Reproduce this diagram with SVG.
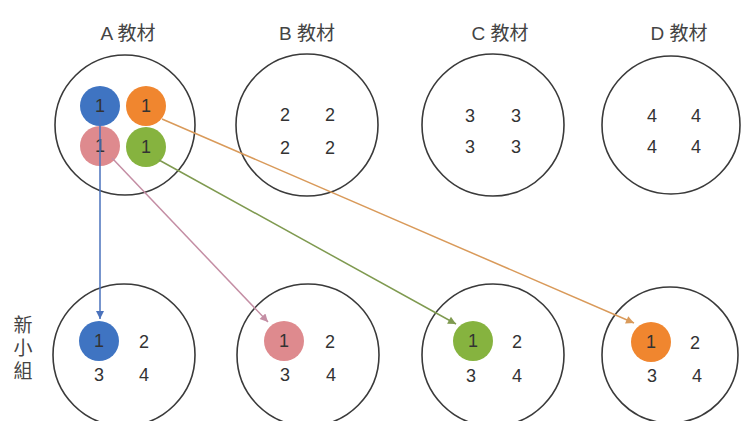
<svg xmlns="http://www.w3.org/2000/svg" width="741" height="421" viewBox="0 0 741 421">
<style>
.ring{fill:none;stroke:#3a3a3a;stroke-width:1.6}
.t{font-family:"Liberation Sans","Noto Sans CJK TC",sans-serif;font-size:19px;fill:#444;text-anchor:middle}
.n{font-family:"Liberation Sans",sans-serif;font-size:18px;fill:#333;text-anchor:middle}
.v{font-family:"Noto Sans CJK TC",sans-serif;font-size:19px;fill:#444;writing-mode:vertical-rl;letter-spacing:4px}
.blue{fill:#3F74C2}.orange{fill:#F0862F}.pink{fill:#DE8A8E}.green{fill:#86B33F}
.ln{fill:none;stroke-width:1.5}
</style>
<defs>
<marker id="mb" viewBox="0 0 10 10" refX="10" refY="5" markerWidth="9" markerHeight="8" markerUnits="userSpaceOnUse" orient="auto"><path d="M0,0 L10,5 L0,10 z" fill="#4A72BC"/></marker>
<marker id="mp" viewBox="0 0 10 10" refX="10" refY="5" markerWidth="9" markerHeight="8" markerUnits="userSpaceOnUse" orient="auto"><path d="M0,0 L10,5 L0,10 z" fill="#C48EA4"/></marker>
<marker id="mg" viewBox="0 0 10 10" refX="10" refY="5" markerWidth="9" markerHeight="8" markerUnits="userSpaceOnUse" orient="auto"><path d="M0,0 L10,5 L0,10 z" fill="#7F9A50"/></marker>
<marker id="mo" viewBox="0 0 10 10" refX="10" refY="5" markerWidth="9" markerHeight="8" markerUnits="userSpaceOnUse" orient="auto"><path d="M0,0 L10,5 L0,10 z" fill="#D99A5A"/></marker>
</defs>
<rect width="741" height="421" fill="#fff"/>

<g id="titles">
<text class="t" x="128" y="40">A 教材</text>
<text class="t" x="307" y="40">B 教材</text>
<text class="t" x="500" y="40">C 教材</text>
<text class="t" x="679" y="40">D 教材</text>
</g>

<g id="label-new-group">
<text class="v" x="23" y="315">新小組</text>
</g>

<g id="material-A">
<circle class="ring" cx="125" cy="125" r="70"/>
<circle class="blue" cx="100" cy="106" r="20"/>
<circle class="orange" cx="146" cy="106" r="20"/>
<circle class="pink" cx="100" cy="146" r="20"/>
<circle class="green" cx="146" cy="147" r="20"/>
<text class="n" x="100" y="112">1</text>
<text class="n" x="146" y="112">1</text>
<text class="n" x="100" y="152">1</text>
<text class="n" x="146" y="153">1</text>
</g>

<g id="material-B">
<circle class="ring" cx="307" cy="125" r="71"/>
<text class="n" x="285" y="121">2</text>
<text class="n" x="330" y="121">2</text>
<text class="n" x="285" y="154">2</text>
<text class="n" x="330" y="154">2</text>
</g>

<g id="material-C">
<circle class="ring" cx="493" cy="125" r="71"/>
<text class="n" x="470" y="122">3</text>
<text class="n" x="516" y="122">3</text>
<text class="n" x="470" y="153">3</text>
<text class="n" x="516" y="153">3</text>
</g>

<g id="material-D">
<circle class="ring" cx="671" cy="125" r="69"/>
<text class="n" x="652" y="122">4</text>
<text class="n" x="696" y="122">4</text>
<text class="n" x="652" y="153">4</text>
<text class="n" x="696" y="153">4</text>
</g>

<g id="group-1">
<circle class="ring" cx="124" cy="355" r="71"/>
<circle class="blue" cx="99" cy="341" r="20"/>
<text class="n" x="99" y="347">1</text>
<text class="n" x="144" y="348">2</text>
<text class="n" x="99" y="381">3</text>
<text class="n" x="144" y="381">4</text>
</g>

<g id="group-2">
<circle class="ring" cx="308" cy="355" r="71"/>
<circle class="pink" cx="284" cy="341" r="20"/>
<text class="n" x="284" y="347">1</text>
<text class="n" x="330" y="348">2</text>
<text class="n" x="285" y="381">3</text>
<text class="n" x="331" y="381">4</text>
</g>

<g id="group-3">
<circle class="ring" cx="493" cy="355" r="71"/>
<circle class="green" cx="473" cy="341" r="20"/>
<text class="n" x="473" y="347">1</text>
<text class="n" x="517" y="348">2</text>
<text class="n" x="471" y="382">3</text>
<text class="n" x="517" y="382">4</text>
</g>

<g id="group-4">
<circle class="ring" cx="670" cy="355" r="68"/>
<circle class="orange" cx="651" cy="342" r="20"/>
<text class="n" x="651" y="348">1</text>
<text class="n" x="695" y="349">2</text>
<text class="n" x="652" y="382">3</text>
<text class="n" x="697" y="382">4</text>
</g>

<g id="connectors">
<path class="ln" d="M100,112 L100,319" stroke="#4A72BC" marker-end="url(#mb)"/>
<path class="ln" d="M112,158 L268,322" stroke="#C48EA4" marker-end="url(#mp)"/>
<path class="ln" d="M159,160 L456,324" stroke="#7F9A50" marker-end="url(#mg)"/>
<path class="ln" d="M162,119 L634,323" stroke="#D99A5A" marker-end="url(#mo)"/>
</g>
</svg>
